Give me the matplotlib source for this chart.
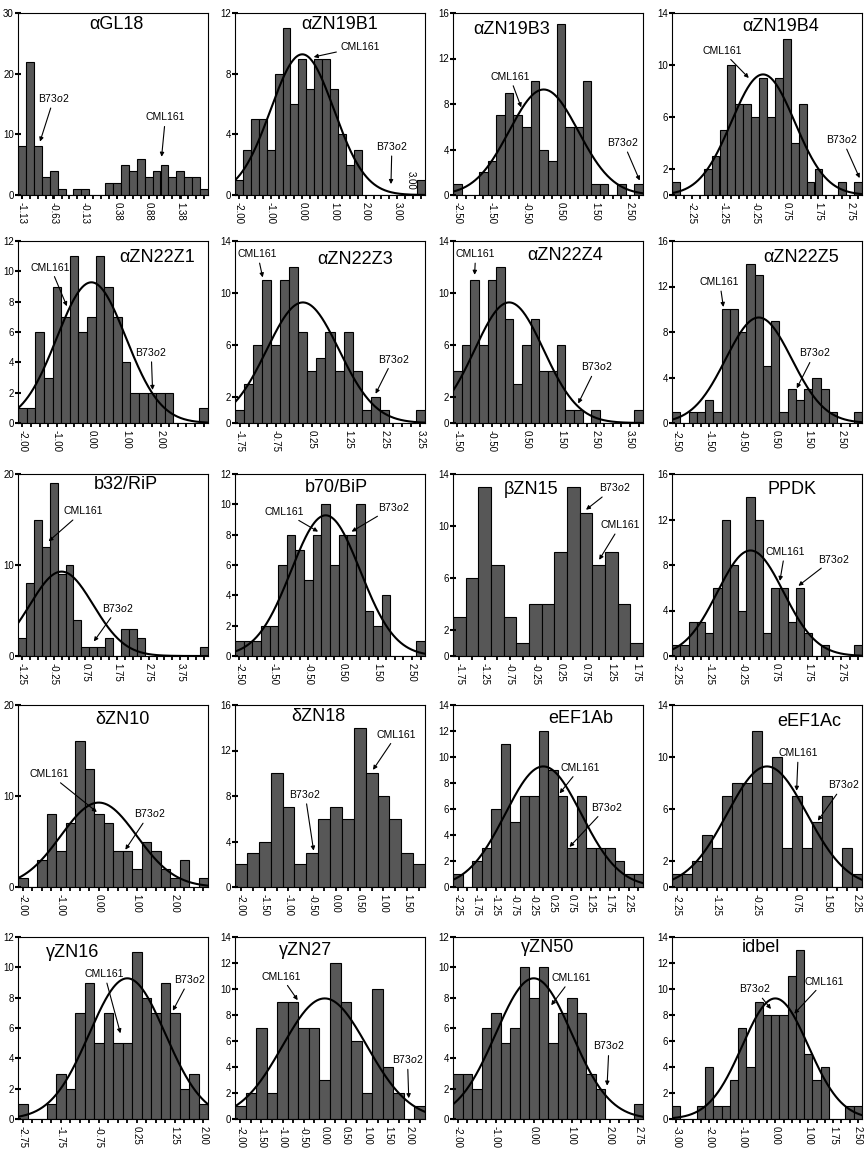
import numpy as np
import matplotlib.pyplot as plt

plt.rcParams['font.family'] = ['Liberation Sans', 'DejaVu Sans']
plt.rcParams['mathtext.fontset'] = 'custom'
plt.rcParams['mathtext.rm'] = 'Liberation Sans'
plt.rcParams['mathtext.it'] = 'Liberation Sans:italic'

# ---- data ----
titles = ["αGL18", "αZN19B1", "αZN19B3", "αZN19B4",
          "αZN22Z1", "αZN22Z3", "αZN22Z4", "αZN22Z5",
          "b32/RiP", "b70/BiP", "βZN15", "PPDK",
          "δZN10", "δZN18", "eEF1Ab", "eEF1Ac",
          "γZN16", "γZN27", "γZN50", "idbel"]

c_aGL18 = [8, 22, 8, 3, 4, 1, 0, 1, 1, 0, 0, 2, 2, 5, 4, 6, 3, 4, 5, 3, 4, 3, 3, 1]
c_aZN19B1 = [1, 3, 5, 5, 3, 8, 11, 6, 9, 7, 9, 9, 7, 4, 2, 3, 0, 0, 0, 0, 0, 0, 0, 1]
c_aZN19B3 = [1, 0, 0, 2, 3, 7, 9, 7, 6, 10, 4, 3, 15, 6, 6, 10, 1, 1, 0, 1, 0, 1]
c_aZN19B4 = [1, 0, 0, 0, 2, 3, 5, 10, 7, 7, 6, 9, 6, 9, 12, 4, 7, 1, 2, 0, 0, 1, 0, 1]
c_aZN22Z1 = [1, 1, 6, 3, 9, 7, 11, 6, 7, 11, 9, 7, 4, 2, 2, 2, 2, 2, 0, 0, 0, 1]
c_aZN22Z3 = [1, 3, 6, 11, 6, 11, 12, 7, 4, 5, 7, 4, 7, 4, 1, 2, 1, 0, 0, 0, 1]
c_aZN22Z4 = [4, 6, 11, 6, 11, 12, 8, 3, 6, 8, 4, 4, 6, 1, 1, 0, 1, 0, 0, 0, 0, 1]
c_aZN22Z5 = [1, 0, 1, 1, 2, 1, 10, 10, 8, 14, 13, 5, 9, 1, 3, 2, 3, 4, 3, 1, 0, 0, 1]
c_b32 = [2, 8, 15, 12, 19, 9, 10, 4, 1, 1, 1, 2, 0, 3, 3, 2, 0, 0, 0, 0, 0, 0, 0, 1]
c_b70 = [1, 1, 1, 2, 2, 6, 8, 7, 5, 8, 10, 6, 8, 8, 10, 3, 2, 4, 0, 0, 0, 1]
c_bZN15 = [3, 6, 13, 7, 3, 1, 4, 4, 8, 13, 11, 7, 8, 4, 1]
c_PPDK = [1, 1, 3, 3, 2, 6, 12, 8, 4, 14, 12, 2, 6, 6, 3, 6, 2, 0, 1, 0, 0, 0, 1]
c_dZN10 = [1, 0, 3, 8, 4, 7, 16, 13, 8, 7, 4, 4, 2, 5, 4, 2, 1, 3, 0, 1]
c_dZN18 = [2, 3, 4, 10, 7, 2, 3, 6, 7, 6, 14, 10, 8, 6, 3, 2]
c_eEF1Ab = [1, 0, 2, 3, 6, 11, 5, 7, 7, 12, 9, 7, 3, 7, 3, 3, 3, 2, 1, 1]
c_eEF1Ac = [1, 1, 2, 4, 3, 7, 8, 8, 12, 8, 10, 3, 7, 3, 5, 7, 0, 3, 1]
c_gZN16 = [1, 0, 0, 1, 3, 2, 7, 9, 5, 7, 5, 5, 11, 8, 7, 9, 7, 2, 3, 1]
c_gZN27 = [1, 2, 7, 2, 9, 9, 7, 7, 3, 12, 9, 6, 2, 10, 4, 2, 0, 1]
c_gZN50 = [3, 3, 2, 6, 7, 5, 6, 10, 8, 10, 5, 7, 8, 7, 3, 2, 0, 0, 0, 1]
c_idbel = [1, 0, 0, 1, 4, 1, 1, 3, 7, 4, 9, 8, 8, 8, 11, 13, 5, 3, 4, 0, 0, 1, 1]

counts = [c_aGL18, c_aZN19B1, c_aZN19B3, c_aZN19B4, c_aZN22Z1, c_aZN22Z3,
          c_aZN22Z4, c_aZN22Z5, c_b32, c_b70, c_bZN15, c_PPDK, c_dZN10,
          c_dZN18, c_eEF1Ab, c_eEF1Ac, c_gZN16, c_gZN27, c_gZN50, c_idbel]

# centre of first bin and bin width (standardised scores)
first_bin = [-1.125, -2.00, -2.50, -2.75, -2.00, -1.75, -1.50, -2.50, -1.25, -2.50,
             -1.75, -2.25, -2.00, -2.00, -2.25, -2.25, -2.75, -2.00, -2.00, -3.00]
bin_width = [0.125] + [0.25] * 19
has_curve = [False, True, True, True, True, True, True, True, True, True,
             False, True, True, False, True, True, True, True, True, True]

xlabels = [
    ["-1.13", "-0.63", "-0.13", "0.38", "0.88", "1.38"],
    ["-2.00", "-1.00", "0.00", "1.00", "2.00", "3.00"],
    ["-2.50", "-1.50", "-0.50", "0.50", "1.50", "2.50"],
    ["-2.25", "-1.25", "-0.25", "0.75", "1.75", "2.75"],
    ["-2.00", "-1.00", "0.00", "1.00", "2.00"],
    ["-1.75", "-0.75", "0.25", "1.25", "2.25", "3.25"],
    ["-1.50", "-0.50", "0.50", "1.50", "2.50", "3.50"],
    ["-2.50", "-1.50", "-0.50", "0.50", "1.50", "2.50"],
    ["-1.25", "-0.25", "0.75", "1.75", "2.75", "3.75"],
    ["-2.50", "-1.50", "-0.50", "0.50", "1.50", "2.50"],
    ["-1.75", "-1.25", "-0.75", "-0.25", "0.25", "0.75", "1.25", "1.75"],
    ["-2.25", "-1.25", "-0.25", "0.75", "1.75", "2.75"],
    ["-2.00", "-1.00", "0.00", "1.00", "2.00"],
    ["-2.00", "-1.50", "-1.00", "-0.50", "0.00", "0.50", "1.00", "1.50"],
    ["-2.25", "-1.75", "-1.25", "-0.75", "-0.25", "0.25", "0.75", "1.25", "1.75", "2.25"],
    ["-2.25", "-1.25", "-0.25", "0.75", "1.50", "2.25"],
    ["-2.75", "-1.75", "-0.75", "0.25", "1.25", "2.00"],
    ["-2.00", "-1.50", "-1.00", "-0.50", "0.00", "0.50", "1.00", "1.50", "2.00"],
    ["-2.00", "-1.00", "0.00", "1.00", "2.00", "2.75"],
    ["-3.00", "-2.00", "-1.00", "0.00", "1.00", "1.75", "2.50"],
]

ymax = [30, 12, 16, 14, 12, 14, 14, 16, 20, 12, 14, 16, 20, 16, 14, 14, 12, 14, 12, 14]
yticks = [[0, 10, 20, 30], [0, 4, 8, 12], [0, 4, 8, 12, 16], [0, 2, 6, 10, 14],
          [0, 2, 4, 6, 8, 10, 12], [0, 2, 6, 10, 14], [0, 2, 6, 10, 14], [0, 4, 8, 12, 16],
          [0, 10, 20], [0, 2, 4, 6, 8, 10, 12], [0, 2, 6, 10, 14], [0, 4, 8, 12, 16],
          [0, 10, 20], [0, 4, 8, 12, 16], [0, 2, 4, 6, 8, 10, 12, 14], [0, 2, 6, 10, 14],
          [0, 2, 4, 6, 8, 10, 12], [0, 2, 4, 6, 8, 10, 12, 14], [0, 2, 4, 6, 8, 10, 12],
          [0, 2, 4, 6, 8, 10, 12, 14]]

# ---- layout ----
B73 = "B73$\\mathit{o2}$"
CML = "CML161"
# (label, text x, text y, arrow tip x, arrow tip y) in data units
notes = [
    [(B73, -0.62, 16.0, -0.84, 8.8), (CML, 1.14, 12.8, 1.08, 6.3)],
    [(CML, 1.83, 9.77, 0.36, 9.1), (B73, 2.83, 3.24, 2.80, 0.72)],
    [(CML, -0.98, 10.4, -0.65, 7.7), (B73, 2.30, 4.66, 2.78, 1.27)],
    [(CML, -1.29, 11.1, -0.45, 9.0), (B73, 2.5, 4.3, 3.05, 1.3)],
    [(CML, -1.18, 10.25, -0.71, 7.7), (B73, 1.73, 4.7, 1.77, 2.18)],
    [(CML, -1.25, 13.0, -1.11, 11.2), (B73, 2.5, 4.96, 2.01, 2.25)],
    [(CML, -0.97, 13.0, -1.0, 11.4), (B73, 2.53, 4.36, 2.0, 1.5)],
    [(CML, -1.18, 12.4, -1.07, 10.2), (B73, 1.7, 6.2, 1.15, 3.05)],
    [(CML, 0.67, 15.9, -0.41, 12.6), (B73, 1.78, 5.3, 1.02, 1.6)],
    [(CML, -1.2, 9.5, -0.22, 8.2), (B73, 1.96, 9.84, 0.75, 8.2)],
    [(B73, 1.31, 12.97, 0.75, 11.25), (CML, 1.43, 10.07, 1.01, 7.4)],
    [(CML, 1.04, 9.16, 0.89, 6.6), (B73, 2.52, 8.57, 1.45, 6.17)],
    [(CML, -1.29, 12.4, -0.05, 8.24), (B73, 1.34, 8.1, 0.70, 4.1)],
    [(CML, 1.28, 13.4, 0.78, 10.3), (B73, -0.65, 8.2, -0.47, 3.2)],
    [(CML, 0.97, 9.17, 0.43, 7.2), (B73, 1.68, 6.17, 0.69, 3.08)],
    [(CML, 0.78, 10.3, 0.74, 7.4), (B73, 1.92, 7.9, 1.27, 5.1)],
    [(CML, -0.6, 9.56, -0.18, 5.65), (B73, 1.64, 9.23, 1.2, 7.14)],
    [(CML, -1.03, 10.96, -0.64, 9.14), (B73, 1.96, 4.6, 1.99, 1.6)],
    [(CML, 1.0, 9.3, 0.46, 7.5), (B73, 1.98, 4.85, 1.93, 2.2)],
    [(B73, -0.63, 10.05, -0.13, 8.46), (CML, 1.48, 10.57, 0.575, 8.1)],
]
title_pos = [(0.52, 0.936), (0.55, 0.936), (0.31, 0.91), (0.57, 0.926),
             (0.73, 0.91), (0.63, 0.90), (0.59, 0.92), (0.68, 0.91),
             (0.57, 0.94), (0.535, 0.926), (0.41, 0.914), (0.63, 0.917),
             (0.55, 0.92), (0.44, 0.936), (0.67, 0.927), (0.72, 0.91),
             (0.29, 0.916), (0.37, 0.928), (0.50, 0.94), (0.47, 0.94)]

W, H = 868, 1174
col_left = [18, 235, 453, 672]
row_top = [13, 241, 474, 705, 937]
pw, ph = 190, 182

fig = plt.figure(figsize=(W / 100, H / 100), dpi=100)
fig.patch.set_facecolor('white')

for k in range(20):
    r, c = divmod(k, 4)
    l, t = col_left[c], row_top[r]
    ax = fig.add_axes([l / W, 1 - (t + ph) / H, pw / W, ph / H])
    cnt = np.array(counts[k])
    bw = bin_width[k]
    xs = first_bin[k] + bw * np.arange(len(cnt))
    lo, hi = xs[0] - bw / 2, xs[-1] + bw / 2
    ax.bar(xs, cnt, width=bw, color='#575757', edgecolor='black', linewidth=0.8)
    if has_curve[k]:
        xx = np.linspace(lo, hi, 300)
        ax.plot(xx, cnt.sum() * bw * np.exp(-xx ** 2 / 2) / np.sqrt(2 * np.pi),
                color='black', lw=1.5)
    ax.set_xlim(lo, hi)
    ax.set_ylim(0, ymax[k])
    ax.set_xticks([float(s) for s in xlabels[k]])
    ax.set_xticklabels(xlabels[k], rotation=-90, fontsize=7)
    ax.set_xticks(xs, minor=True)
    ax.set_yticks(yticks[k])
    ax.set_yticklabels([str(v) for v in yticks[k]], fontsize=7)
    ax.tick_params(axis='x', which='both', direction='out', length=3, width=1.3, pad=2)
    ax.tick_params(axis='y', direction='inout', length=4, width=1.5, pad=1)
    for sp in ax.spines.values():
        sp.set_linewidth(0.8)
    ax.text(title_pos[k][0], title_pos[k][1], titles[k], transform=ax.transAxes,
            ha='center', va='center', fontsize=13)
    for lab, tx, ty, px, py in notes[k]:
        ax.annotate(lab, xy=(px, py), xytext=(tx, ty), ha='center', va='center',
                    fontsize=7.5,
                    arrowprops=dict(arrowstyle='-|>', color='black', lw=0.8,
                                    mutation_scale=6, shrinkA=1, shrinkB=0))
    if k == 1:
        ax.text(3.43, 0.95, "3.00", rotation=-90, fontsize=7, ha='center', va='center')

fig.savefig('out.png', dpi=100)
